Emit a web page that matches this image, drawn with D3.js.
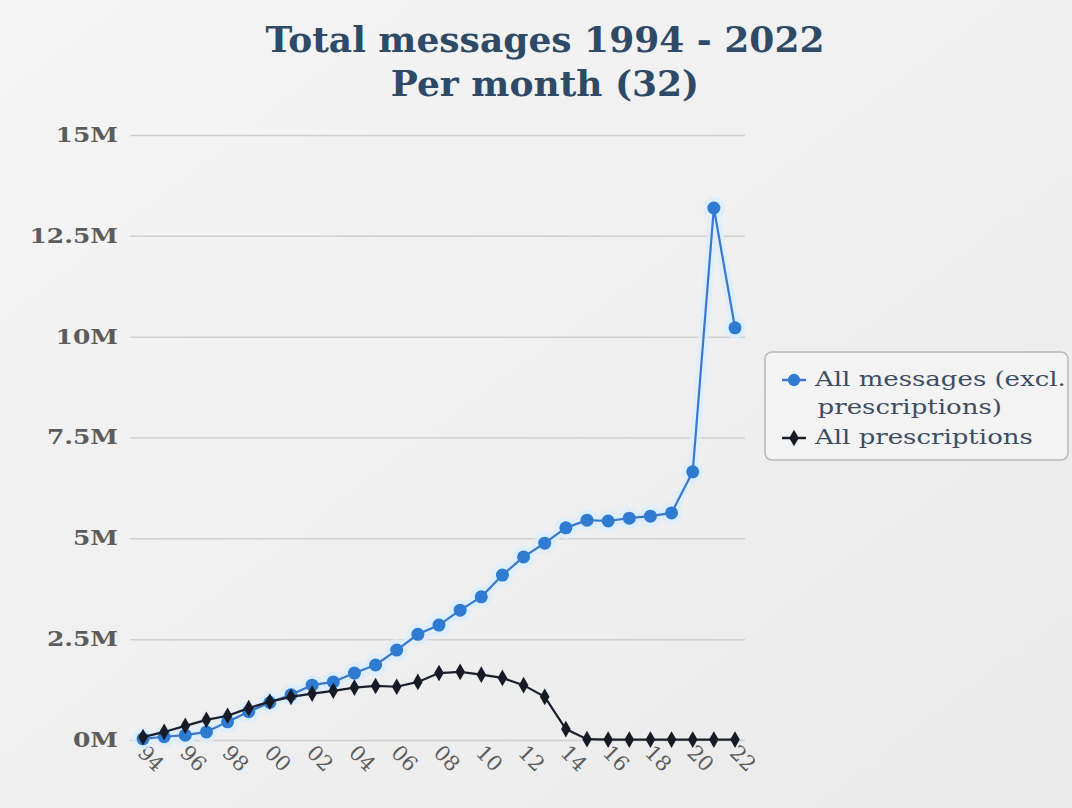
<!DOCTYPE html>
<html>
<head>
<meta charset="utf-8">
<script src="https://cdn.jsdelivr.net/npm/d3@7"></script>
<style>
  body { margin: 0; background: #efefef; }
  svg { display: block; }
</style>
</head>
<body>
<div id="chart"></div>
<script>
// data (millions of messages per month)
const years = d3.range(1994, 2023);
const allMessages = [0.03, 0.08, 0.12, 0.2, 0.45, 0.7, 0.93, 1.12, 1.36, 1.44, 1.66, 1.86, 2.23, 2.62, 2.85,
                     3.22, 3.55, 4.09, 4.54, 4.88, 5.26, 5.45, 5.43, 5.5, 5.55, 5.63, 6.65, 13.19, 10.22];
const allPrescriptions = [0.07, 0.2, 0.35, 0.5, 0.6, 0.79, 0.95, 1.07, 1.15, 1.22, 1.3, 1.34, 1.32, 1.44, 1.66,
                          1.69, 1.62, 1.54, 1.36, 1.07, 0.27, 0.02, 0.01, 0.01, 0.01, 0.01, 0.01, 0.01, 0.01];
const yTicks = [0, 2.5, 5, 7.5, 10, 12.5, 15];
const xTicks = d3.range(1994, 2023, 2);
const titleLines = ["Total messages 1994 - 2022", "Per month (32)"];
const legendNames = [["All messages (excl.", "prescriptions)"], ["All prescriptions"]];

const width = 1072, height = 808;
const plot = {left: 130, right: 745, top: 135, bottom: 740};
const serif = "'DejaVu Serif', serif";

const svg = d3.select("#chart").append("svg")
    .attr("width", width)
    .attr("height", height);

// soft grey background
const grad = svg.append("defs").append("linearGradient")
    .attr("id", "bg").attr("x1", 0).attr("y1", 0).attr("x2", 1).attr("y2", 1);
grad.append("stop").attr("offset", "0%").attr("stop-color", "#f5f5f5");
grad.append("stop").attr("offset", "100%").attr("stop-color", "#eaeaea");
svg.append("rect").attr("width", width).attr("height", height).attr("fill", "url(#bg)");

const x = d3.scaleLinear().domain([1994, 2022]).range([143, 735]);
const y = d3.scaleLinear().domain([0, 15]).range([plot.bottom, plot.top]);

// title
svg.append("text")
    .attr("x", 545).attr("y", 52)
    .attr("text-anchor", "middle")
    .attr("font-family", serif).attr("font-weight", "bold").attr("font-size", 36)
    .attr("fill", "#2f4a66")
  .selectAll("tspan")
  .data(titleLines)
  .join("tspan")
    .attr("x", 545)
    .attr("dy", (d, i) => i ? 44 : 0)
    .text(d => d);

// y axis with grid lines
const yAxis = svg.append("g")
    .attr("transform", `translate(${plot.left},0)`)
    .call(d3.axisLeft(y).tickValues(yTicks)
      .tickSize(-(plot.right - plot.left))
      .tickPadding(0)
      .tickFormat(d => d + "M"));
yAxis.select(".domain").remove();
yAxis.selectAll("line").attr("stroke", "#d0d0d0").attr("stroke-width", 1.5);
yAxis.selectAll("text")
    .attr("x", 0)
    .attr("font-family", serif).attr("font-weight", "bold").attr("font-size", 20)
    .attr("fill", "#5c5c5c")
    .attr("transform", "translate(-12,0) scale(1.25,1)");

// x axis, rotated labels
const xAxis = svg.append("g")
    .attr("transform", `translate(0,${plot.bottom})`)
    .call(d3.axisBottom(x).tickValues(xTicks).tickSize(0)
      .tickFormat(d => String(d).slice(2)));
xAxis.select(".domain").remove();
xAxis.selectAll("text")
    .attr("font-family", serif).attr("font-size", 21)
    .attr("fill", "#5c5c5c")
    .attr("text-anchor", "start")
    .attr("transform", "translate(-2,6) rotate(45)")
    .attr("dy", "0.3em").attr("dx", "0.1em");

const lineGen = d3.line().x((d, i) => x(years[i])).y(d => y(d));

// all messages (blue dots with light halo)
svg.append("path").datum(allMessages)
    .attr("d", lineGen)
    .attr("fill", "none").attr("stroke", "#dcedfd").attr("stroke-width", 10).attr("stroke-opacity", 0.85);
svg.append("g").selectAll("circle")
  .data(allMessages)
  .join("circle")
    .attr("cx", (d, i) => x(years[i]))
    .attr("cy", d => y(d))
    .attr("r", 11)
    .attr("fill", "#dcedfd").attr("fill-opacity", 0.85);
svg.append("path").datum(allMessages)
    .attr("d", lineGen)
    .attr("fill", "none").attr("stroke", "#3b78cc").attr("stroke-width", 2.2);
svg.append("g").selectAll("circle")
  .data(allMessages)
  .join("circle")
    .attr("cx", (d, i) => x(years[i]))
    .attr("cy", d => y(d))
    .attr("r", 6.5)
    .attr("fill", "#2f7bd1");

// prescriptions (black diamonds)
svg.append("path").datum(allPrescriptions)
    .attr("d", lineGen)
    .attr("fill", "none").attr("stroke", "#1a1f2b").attr("stroke-width", 2.2);
svg.append("g").selectAll("path")
  .data(allPrescriptions)
  .join("path")
    .attr("transform", (d, i) => `translate(${x(years[i])},${y(d)})`)
    .attr("d", d3.symbol(d3.symbolDiamond, 80))
    .attr("fill", "#161b26");

// legend
const legend = svg.append("g").attr("transform", "translate(765,352)");
legend.append("rect")
    .attr("width", 303).attr("height", 108).attr("rx", 7)
    .attr("fill", "#f3f3f3").attr("stroke", "#b8b8b8").attr("stroke-width", 1.5);

const items = [
  {names: legendNames[0], color: "#2f7bd1", line: "#3b78cc", y: 28, sym: d3.symbolCircle, size: 120},
  {names: legendNames[1], color: "#161b26", line: "#1a1f2b", y: 86, sym: d3.symbolDiamond, size: 80}
];
items.forEach(it => {
  legend.append("line")
      .attr("x1", 17).attr("x2", 41).attr("y1", it.y).attr("y2", it.y)
      .attr("stroke", it.line).attr("stroke-width", 2.5);
  legend.append("path")
      .attr("transform", `translate(29,${it.y})`)
      .attr("d", d3.symbol(it.sym, it.size))
      .attr("fill", it.color);
  legend.append("text")
      .attr("transform", "translate(50,0) scale(1.3,1)")
      .attr("y", it.y + 6)
      .attr("font-family", serif).attr("font-size", 20)
      .attr("fill", "#3d4d63")
    .selectAll("tspan")
    .data(it.names)
    .join("tspan")
      .attr("x", (d, i) => i ? 2 : 0)
      .attr("dy", (d, i) => i ? 28 : 0)
      .text(d => d);
});
</script>
</body>
</html>
